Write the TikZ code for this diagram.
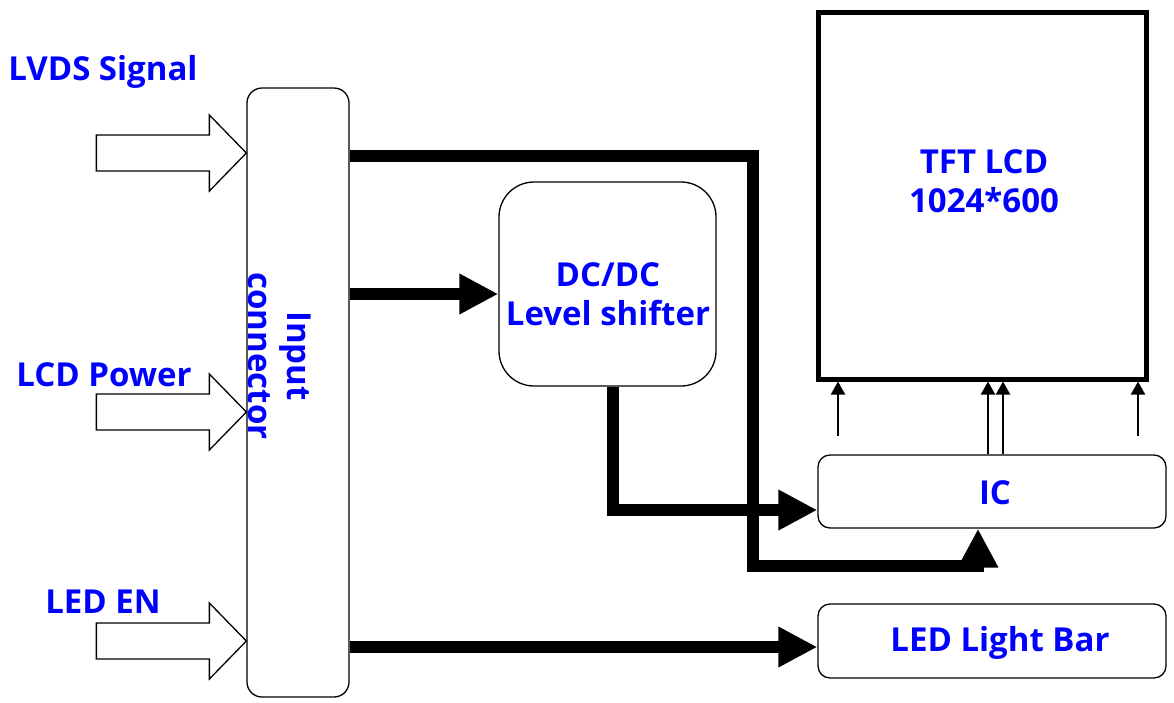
\documentclass[tikz,border=0pt]{standalone}
\usepackage{fontspec}
\setmainfont{Open Sans}
\usetikzlibrary{arrows.meta,calc}
\begin{document}
\begin{tikzpicture}[x=1pt,y=-1pt,
  lbl/.style={text=blue,font=\bfseries\fontsize{33}{39}\selectfont,align=center,inner sep=0},
  rbox/.style={draw,line width=1.3pt,rounded corners=#1,inner sep=0},
  thick/.style={line width=12pt,line join=miter},
  bigtip/.style={-{Triangle[length=39pt,width=38pt]}},
  thin/.style={line width=2pt,-{Triangle[length=13pt,width=14pt]}},
  blockarrow/.style={draw,line width=1.3pt,fill=white,line join=miter}]
\useasboundingbox (0,0) rectangle (1174,702);
% boxes
\node[rbox=15pt,minimum width=102pt,minimum height=609pt] (conn) at (298,392.5) {};
\node[lbl,rotate=-90] (conntxt) at (280,356) {Input\\connector};
\node[rbox=35pt,minimum width=217pt,minimum height=204pt] (dc) at (607.5,284) {};
\node[lbl] (dctxt) at (608,294) {DC/DC\\Level shifter};
\node[draw,line width=5pt,minimum width=328pt,minimum height=367pt,inner sep=0] (tft) at (982,195.5) {};
\node[lbl] (tfttxt) at (984,181) {TFT LCD\\1024*600};
\node[rbox=12pt,minimum width=348pt,minimum height=73pt] (ic) at (992,491.5) {};
\node[lbl] (ictxt) at (995,493) {IC};
\node[rbox=12pt,minimum width=348pt,minimum height=74pt] (led) at (992,641) {};
\node[lbl] (ledtxt) at (1000,643) {LED Light Bar};
% input labels
\node[lbl] (l1) at (103,72) {LVDS Signal};
\node[lbl] (l2) at (104,375) {LCD Power};
\node[lbl] (l3) at (103,602) {LED EN};
% block arrows
\foreach \yy/\nm in {153/a1,412/a2,641/a3}{
  \coordinate (\nm) at (conn.west |- 0,\yy);
  \draw[blockarrow] (\nm) -- ++(-37,-38) -- ++(0,20) -- ++(-113,0) -- ++(0,36) -- ++(113,0) -- ++(0,20) -- cycle;
}
% thick connectors
\coordinate (c1) at (conn.east |- 0,156);
\coordinate (k1) at (753,156);
\coordinate (k2) at (753,566);
\coordinate (ict) at (978,0);
\draw[thick,bigtip] (c1) -- (k1) -- (k2) -| (ict |- ic.south);
\draw[thick,bigtip] (conn.east |- dc.west) ++(0,10) coordinate (c2) -- (dc.west |- c2);
\coordinate (d1) at ($(dc.south)+(5.5,0)$);
\coordinate (d2) at (d1 |- 0,510);
\draw[thick,bigtip] (d1) -- (d2) -- (ic.west |- d2);
\coordinate (c3) at (conn.east |- 0,647);
\draw[thick,bigtip] (c3) -- (led.west |- c3);
% thin arrows
\coordinate (t1) at (838,436);
\coordinate (t4) at (1138,436);
\draw[thin] (t1) -- (t1 |- tft.south);
\draw[thin] (t4) -- (t4 |- tft.south);
\draw[thin] (ic.north -| 988,0) -- (tft.south -| 988,0);
\draw[thin] (ic.north -| 1003,0) -- (tft.south -| 1003,0);
\end{tikzpicture}
\end{document}
